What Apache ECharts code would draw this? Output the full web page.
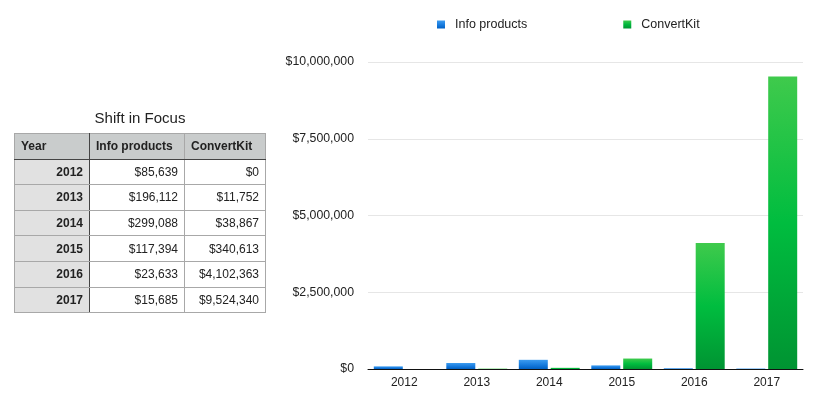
<!DOCTYPE html>
<html>
<head>
<meta charset="utf-8">
<script src="https://cdn.jsdelivr.net/npm/echarts@6/dist/echarts.min.js"></script>
<style>
  html, body { margin: 0; padding: 0; background: #fff; }
  #chart { position: absolute; left: 0; top: 0; width: 824px; height: 397px; }
  .title {
    position: absolute; left: 14px; width: 252px; top: 109px;
    text-align: center; font: 15px "Liberation Sans", Arial, sans-serif; color: #222;
  }
  table {
    position: absolute; left: 14px; top: 133px; width: 252px;
    border-collapse: collapse; font: 12px "Liberation Sans", Arial, sans-serif; color: #222;
  }
  td, th { border: 1px solid #a8a8a8; height: 24.6px; padding: 0 6px; text-align: right; }
  th { background: #c9cccc; font-weight: bold; text-align: left; border-bottom: 1.5px solid #444; }
  td.year { background: #e1e1e1; font-weight: bold; }
  .year { border-right: 1.5px solid #444; }
</style>
</head>
<body>
<div id="chart"></div>
<div class="title">Shift in Focus</div>
<table id="tbl"></table>
<script>
const years = ['2012', '2013', '2014', '2015', '2016', '2017']
const infoProducts = [85639, 196112, 299088, 117394, 23633, 15685]
const convertKit = [0, 11752, 38867, 340613, 4102363, 9524340]
const yTicks = [0, 2500000, 5000000, 7500000, 10000000]

const money = v => '$' + v.toLocaleString('en-US')

// table on the left
let html = '<tr><th class="year" style="width:62px">Year</th><th style="width:82px">Info products</th><th>ConvertKit</th></tr>'
years.forEach((y, i) => {
  html += '<tr><td class="year">' + y + '</td><td>' + money(infoProducts[i]) + '</td><td>' + money(convertKit[i]) + '</td></tr>'
})
document.getElementById('tbl').innerHTML = html

const chart = echarts.init(document.getElementById('chart'))
const font = '"Liberation Sans", Arial, sans-serif'
const grad = (a, b, c) => new echarts.graphic.LinearGradient(0, 0, 0, 1, [
  { offset: 0, color: a }, { offset: 0.5, color: b }, { offset: 1, color: c }
])

chart.setOption({
  animation: false,
  textStyle: { fontFamily: font },
  legend: {
    left: 432,
    top: 13,
    icon: 'rect',
    itemWidth: 8,
    itemHeight: 8,
    itemGap: 96,
    textStyle: { fontSize: 12.5, color: '#222', fontFamily: font, padding: [0, 0, 0, 5] },
    data: [
      { name: 'Info products', itemStyle: { color: grad('#3d9cf0', '#1a7ee0', '#0060c4') } },
      { name: 'ConvertKit', itemStyle: { color: grad('#3dc94b', '#00b83d', '#009432') } }
    ]
  },
  grid: { left: 368, right: 21, top: 62, bottom: 28 },
  xAxis: {
    type: 'category',
    data: years,
    axisLine: { lineStyle: { color: '#111', width: 1 } },
    axisTick: { show: false },
    axisLabel: { color: '#222', fontSize: 12, margin: 8 }
  },
  yAxis: {
    type: 'value',
    min: 0,
    max: yTicks[yTicks.length - 1],
    interval: 2500000,
    axisLine: { show: false },
    axisTick: { show: false },
    splitLine: { lineStyle: { color: '#e6e6e6' } },
    axisLabel: { color: '#222', fontSize: 12.3, margin: 14, formatter: v => money(v) }
  },
  series: [{
    name: 'Info products',
    type: 'bar',
    barWidth: 29,
    barGap: '10%',
    itemStyle: { color: grad('#3d9cf0', '#1a7ee0', '#0060c4') },
    data: infoProducts
  }, {
    name: 'ConvertKit',
    type: 'bar',
    barWidth: 29,
    itemStyle: { color: grad('#3fca4c', '#00bd3f', '#009432') },
    data: convertKit
  }]
})
</script>
</body>
</html>
